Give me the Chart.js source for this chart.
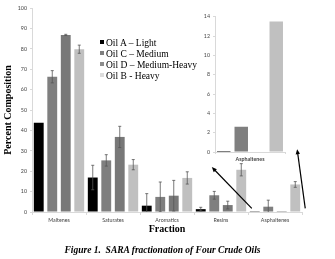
<!DOCTYPE html>
<html>
<head>
<meta charset="utf-8">
<script src="https://cdn.jsdelivr.net/npm/chart.js/dist/chart.umd.min.js"></script>
<style>
    body { margin: 0; background: #fff; }
    #wrap { position: relative; width: 335px; height: 259px; overflow: hidden; }
    #main { position: absolute; left: 0; top: 0; }
    #inset { position: absolute; left: 195px; top: 5px; background: #fff; }
    .legend { position: absolute; left: 100px; top: 38px; font-family: "Liberation Serif", serif; font-size: 9.5px; line-height: 11px; color: #000; }
    .legend div { white-space: nowrap; }
    .legend span { display: inline-block; width: 4px; height: 4px; margin-right: 2px; vertical-align: 2px; }
    .caption { position: absolute; left: 0; width: 325px; top: 244px; text-align: center; font: italic bold 9.5px "Liberation Serif", serif; line-height: 12px; }
</style>
</head>
<body>
<div id="wrap">
    <canvas id="main" width="335" height="259"></canvas>
    <canvas id="inset" width="97" height="158"></canvas>

    <!-- Leyenda -->
    <div class="legend">
        <div><span style="background:#000"></span>Oil A – Light</div>
        <div><span style="background:#7f7f7f"></span>Oil C – Medium</div>
        <div><span style="background:#8c8c8c"></span>Oil D – Medium-Heavy</div>
        <div><span style="background:#dcdcdc"></span>Oil B - Heavy</div>
    </div>

    <div class="caption">Figure 1.&nbsp; SARA fractionation of Four Crude Oils</div>
</div>

<script>
    // Datos
    const fractions = ['Maltenes', 'Saturates', 'Aromatics', 'Resins', 'Asphaltenes'];
    const oilA = [43.8, 16.9, 3.1, 1.4, 0.1];
    const oilC = [66.3, 25.3, 7.4, 8.2, 2.6];
    const oilD = [86.8, 36.8, 8.0, 3.4, 0.05];
    const oilB = [79.8, 23.2, 16.7, 20.7, 13.5];
    const errA = [0, 6.0, 5.9, 0.9, 0];
    const errC = [3.0, 2.8, 7.3, 1.9, 3.2];
    const errD = [0.3, 5.2, 7.5, 1.9, 0];
    const errB = [2.0, 2.5, 3.0, 3.0, 1.4];
    const yTicks = [0, 10, 20, 30, 40, 50, 60, 70, 80, 90, 100];
    const insetTicks = [0, 2, 4, 6, 8, 10, 12, 14];

    // flechas: [indice de categoria, valor]
    const arrows = [
        { from: [3.57, 1.8], to: [2.83, 22] },
        { from: [4.56, 1.8], to: [4.41, 30.8] }
    ];

    const colors = ['#000000', '#7f7f7f', '#787878', '#c0c0c0'];
    const tickFont = { family: 'Lato', size: 5.3 };

    // Barras de error
    const errorBars = {
        id: 'errorBars',
        afterDatasetsDraw(chart) {
            const { ctx, chartArea, scales: { y } } = chart;
            ctx.save();
            ctx.beginPath();
            ctx.rect(chartArea.left, chartArea.top, chartArea.width, chartArea.height);
            ctx.clip();
            ctx.strokeStyle = '#555';
            ctx.lineWidth = 0.8;
            chart.data.datasets.forEach((ds, i) => {
                chart.getDatasetMeta(i).data.forEach((bar, j) => {
                    const e = ds.errors[j];
                    if (!e) return;
                    const top = y.getPixelForValue(ds.data[j] + e);
                    const bot = y.getPixelForValue(ds.data[j] - e);
                    ctx.beginPath();
                    ctx.moveTo(bar.x, top); ctx.lineTo(bar.x, bot);
                    ctx.moveTo(bar.x - 1.5, top); ctx.lineTo(bar.x + 1.5, top);
                    ctx.moveTo(bar.x - 1.5, bot); ctx.lineTo(bar.x + 1.5, bot);
                    ctx.stroke();
                });
            });
            ctx.restore();
        }
    };

    // Flechas hacia el recuadro
    const arrowPlugin = {
        id: 'arrows',
        afterDraw(chart) {
            const { ctx, scales: { x, y } } = chart;
            ctx.save();
            ctx.strokeStyle = '#000';
            ctx.fillStyle = '#000';
            ctx.lineWidth = 1.2;
            arrows.forEach(a => {
                const x1 = x.getPixelForValue(a.from[0]), y1 = y.getPixelForValue(a.from[1]);
                const x2 = x.getPixelForValue(a.to[0]), y2 = y.getPixelForValue(a.to[1]);
                const ang = Math.atan2(y2 - y1, x2 - x1);
                ctx.beginPath();
                ctx.moveTo(x1, y1);
                ctx.lineTo(x2 - 3 * Math.cos(ang), y2 - 3 * Math.sin(ang));
                ctx.stroke();
                ctx.beginPath();
                ctx.moveTo(x2, y2);
                ctx.lineTo(x2 - 5 * Math.cos(ang) + 2.2 * Math.sin(ang), y2 - 5 * Math.sin(ang) - 2.2 * Math.cos(ang));
                ctx.lineTo(x2 - 5 * Math.cos(ang) - 2.2 * Math.sin(ang), y2 - 5 * Math.sin(ang) + 2.2 * Math.cos(ang));
                ctx.closePath();
                ctx.fill();
            });
            ctx.restore();
        }
    };

    const series = [
        { label: 'Oil A – Light', data: oilA, errors: errA },
        { label: 'Oil C – Medium', data: oilC, errors: errC },
        { label: 'Oil D – Medium-Heavy', data: oilD, errors: errD },
        { label: 'Oil B - Heavy', data: oilB, errors: errB }
    ];

    new Chart(document.getElementById('main'), {
        type: 'bar',
        data: {
            labels: fractions,
            datasets: series.map((s, i) => ({
                label: s.label,
                data: s.data,
                errors: s.errors,
                backgroundColor: colors[i],
                barPercentage: 0.73,
                categoryPercentage: 1
            }))
        },
        plugins: [errorBars, arrowPlugin],
        options: {
            responsive: false,
            animation: false,
            devicePixelRatio: 1,
            layout: { padding: { left: 0, top: 8, right: 33, bottom: 0 } },
            plugins: { legend: { display: false }, tooltip: { enabled: false } },
            scales: {
                y: {
                    min: 0, max: 100,
                    afterBuildTicks: s => { s.ticks = yTicks.map(v => ({ value: v })); },
                    afterFit: s => { s.width = 32; },
                    border: { color: '#d9d9d9' },
                    grid: { drawOnChartArea: false, tickLength: 2, color: '#d9d9d9' },
                    ticks: { font: tickFont, color: '#444', padding: 3 },
                    title: {
                        display: true, text: 'Percent Composition', color: '#000',
                        font: { family: 'Liberation Serif', size: 10, weight: 'bold' },
                        padding: { top: 2, bottom: 0 }
                    }
                },
                x: {
                    afterFit: s => { s.height = 47; },
                    border: { color: '#d9d9d9' },
                    grid: { drawOnChartArea: false, tickLength: 3, color: '#d9d9d9' },
                    ticks: { font: tickFont, color: '#444', padding: 2, autoSkip: false, maxRotation: 0 },
                    title: {
                        display: true, text: 'Fraction', color: '#000',
                        font: { family: 'Liberation Serif', size: 10, weight: 'bold' },
                        padding: { top: 0, bottom: 24 }
                    }
                }
            }
        }
    });

    // Recuadro de asfaltenos
    new Chart(document.getElementById('inset'), {
        type: 'bar',
        data: {
            labels: [fractions[4]],
            datasets: series.map((s, i) => ({
                label: s.label,
                data: [s.data[4]],
                backgroundColor: colors[i],
                barPercentage: 0.77,
                categoryPercentage: 1
            }))
        },
        options: {
            responsive: false,
            animation: false,
            devicePixelRatio: 1,
            layout: { padding: { left: 0, top: 11.7, right: 7, bottom: 0 } },
            plugins: { legend: { display: false }, tooltip: { enabled: false } },
            scales: {
                y: {
                    min: 0, max: 14,
                    afterBuildTicks: s => { s.ticks = insetTicks.map(v => ({ value: v })); },
                    afterFit: s => { s.width = 20; },
                    border: { color: '#d9d9d9' },
                    grid: { drawOnChartArea: false, tickLength: 2, color: '#d9d9d9' },
                    ticks: { font: tickFont, color: '#444', padding: 3 }
                },
                x: {
                    afterFit: s => { s.height = 11; },
                    border: { color: '#d9d9d9' },
                    grid: { drawOnChartArea: false, tickLength: 2, color: '#d9d9d9' },
                    ticks: { font: { family: 'Lato', size: 5.3, weight: 'bold' }, color: '#444', padding: 2 }
                }
            }
        }
    });
</script>
</body>
</html>
